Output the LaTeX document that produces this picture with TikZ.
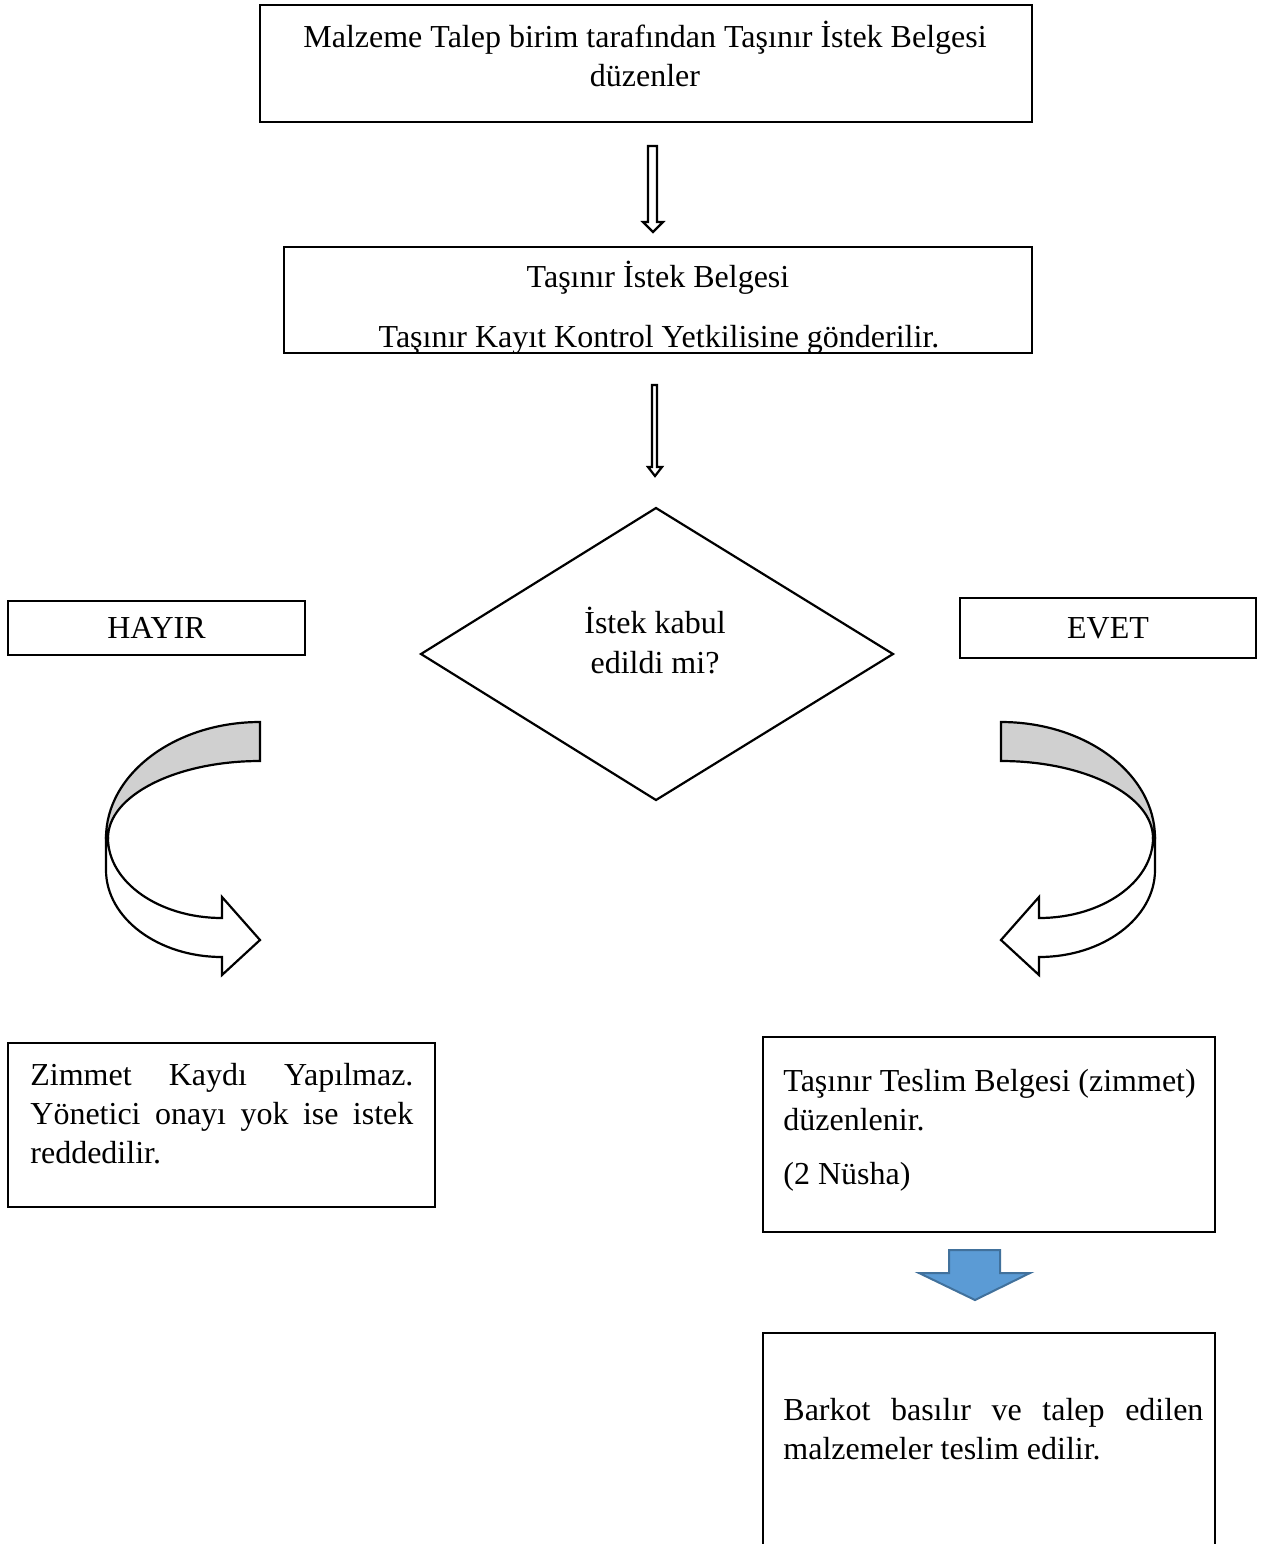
\documentclass[tikz,border=0pt]{standalone}
\usepackage{fontspec}
\setmainfont{Liberation Serif}
\definecolor{bandgrey}{HTML}{D0D0D0}
\definecolor{blfill}{HTML}{5B9BD5}
\definecolor{bldraw}{HTML}{41719C}
\begin{document}
\begin{tikzpicture}[x=0.5pt,y=-0.5pt,
  box/.style={draw, line width=1.35pt, rectangle, inner sep=0pt, font=\fontsize{16}{19.5}\selectfont},
  txt/.style={inner sep=0pt, font=\fontsize{16}{19.5}\selectfont},
  hollow/.style={draw, line width=1.1pt, fill=white, line join=miter},
  band/.style={draw, line width=1.1pt, fill=bandgrey, line join=miter}]
\useasboundingbox (0,0) rectangle (1266,1544);
\fill[white] (0,0) rectangle (1266,1544);

% boxes
\node[box, minimum width=386pt, minimum height=58.5pt] (b1) at (646,63.5) {};
\node[txt, anchor=base] (t1a) at (645,47) {Malzeme Talep birim tarafından Taşınır İstek Belgesi};
\node[txt, anchor=base] (t1b) at (645,86) {düzenler};

\begin{scope}
\clip (284,247) rectangle (1032,352);
\node[txt, anchor=base] (t2a) at (658,287) {Taşınır İstek Belgesi};
\node[txt, anchor=base] (t2b) at (659,347) {Taşınır Kayıt Kontrol Yetkilisine gönderilir.};
\end{scope}
\node[box, minimum width=374pt, minimum height=53pt] (b2) at (658,300) {};

% straight hollow arrows
\draw[hollow] (648,146) -- (657,146) -- (657,222) -- (663,222) -- (653,232) -- (643,222) -- (648,222) -- cycle;
\draw[hollow] (652,385) -- (657,385) -- (657,467) -- (662,467) -- (655,476) -- (648,467) -- (652,467) -- cycle;

% decision
\coordinate (dT) at (656,508);
\coordinate (dR) at (893,654);
\coordinate (dB) at (656,800);
\coordinate (dL) at (421,654);
\draw[line width=1.1pt, line join=miter] (dT) -- (dR) -- (dB) -- (dL) -- cycle;
\node[txt, anchor=base] (q1) at (655,633) {İstek kabul};
\node[txt, anchor=base] (q2) at (655,673) {edildi mi?};

\node[box, minimum width=148.5pt, minimum height=27pt] (hayir) at (156.5,628) {HAYIR};
\node[box, minimum width=148pt, minimum height=30pt] (evet) at (1108,628) {EVET};

% curved arrows
\begin{scope}
\draw[band] (260,722) -- (260,761) .. controls (176,761) and (108,795.5) .. (108,838) -- (106,838) .. controls (106,774) and (175,722) .. (260,722) -- cycle;
\draw[hollow] (106,838) -- (106,870) .. controls (106,918) and (158,957) .. (222,957) -- (222,975) -- (260,940) -- (222,897) -- (222,918) .. controls (159,918) and (108,882) .. (108,838) -- cycle;
\end{scope}
\begin{scope}[shift={(1261,0)}, xscale=-1]
\draw[band] (260,722) -- (260,761) .. controls (176,761) and (108,795.5) .. (108,838) -- (106,838) .. controls (106,774) and (175,722) .. (260,722) -- cycle;
\draw[hollow] (106,838) -- (106,870) .. controls (106,918) and (158,957) .. (222,957) -- (222,975) -- (260,940) -- (222,897) -- (222,918) .. controls (159,918) and (108,882) .. (108,838) -- cycle;
\end{scope}

% result boxes
\node[box, minimum width=213.5pt, minimum height=82pt] (red) at (221.5,1125) {};
\node[txt, anchor=base west, text width=191.5pt, align=justify] (redt) at (30,1085)
  {Zimmet Kaydı Yapılmaz.\linebreak Yönetici onayı yok ise istek\linebreak reddedilir.};

\node[box, minimum width=226pt, minimum height=97.5pt] (tes) at (989,1134.5) {};
\node[txt, anchor=base west] (tesa) at (783,1091) {Taşınır Teslim Belgesi (zimmet)};
\node[txt, anchor=base west] (tesb) at (783,1130) {düzenlenir.};
\node[txt, anchor=base west] (tesc) at (783,1184) {(2 Nüsha)};

% blue arrow
\draw[fill=blfill, draw=bldraw, line width=1pt, line join=miter] (949,1250) -- (1000,1250) -- (1000,1273) -- (1030,1273) -- (975,1300) -- (919,1273) -- (949,1273) -- cycle;

\node[box, minimum width=226pt, minimum height=118.5pt] (bar) at (989,1451.5) {};
\node[txt, anchor=base west, text width=210pt, align=justify] (bart) at (783,1420)
  {Barkot basılır ve talep edilen\linebreak malzemeler teslim edilir.};
\end{tikzpicture}
\end{document}
